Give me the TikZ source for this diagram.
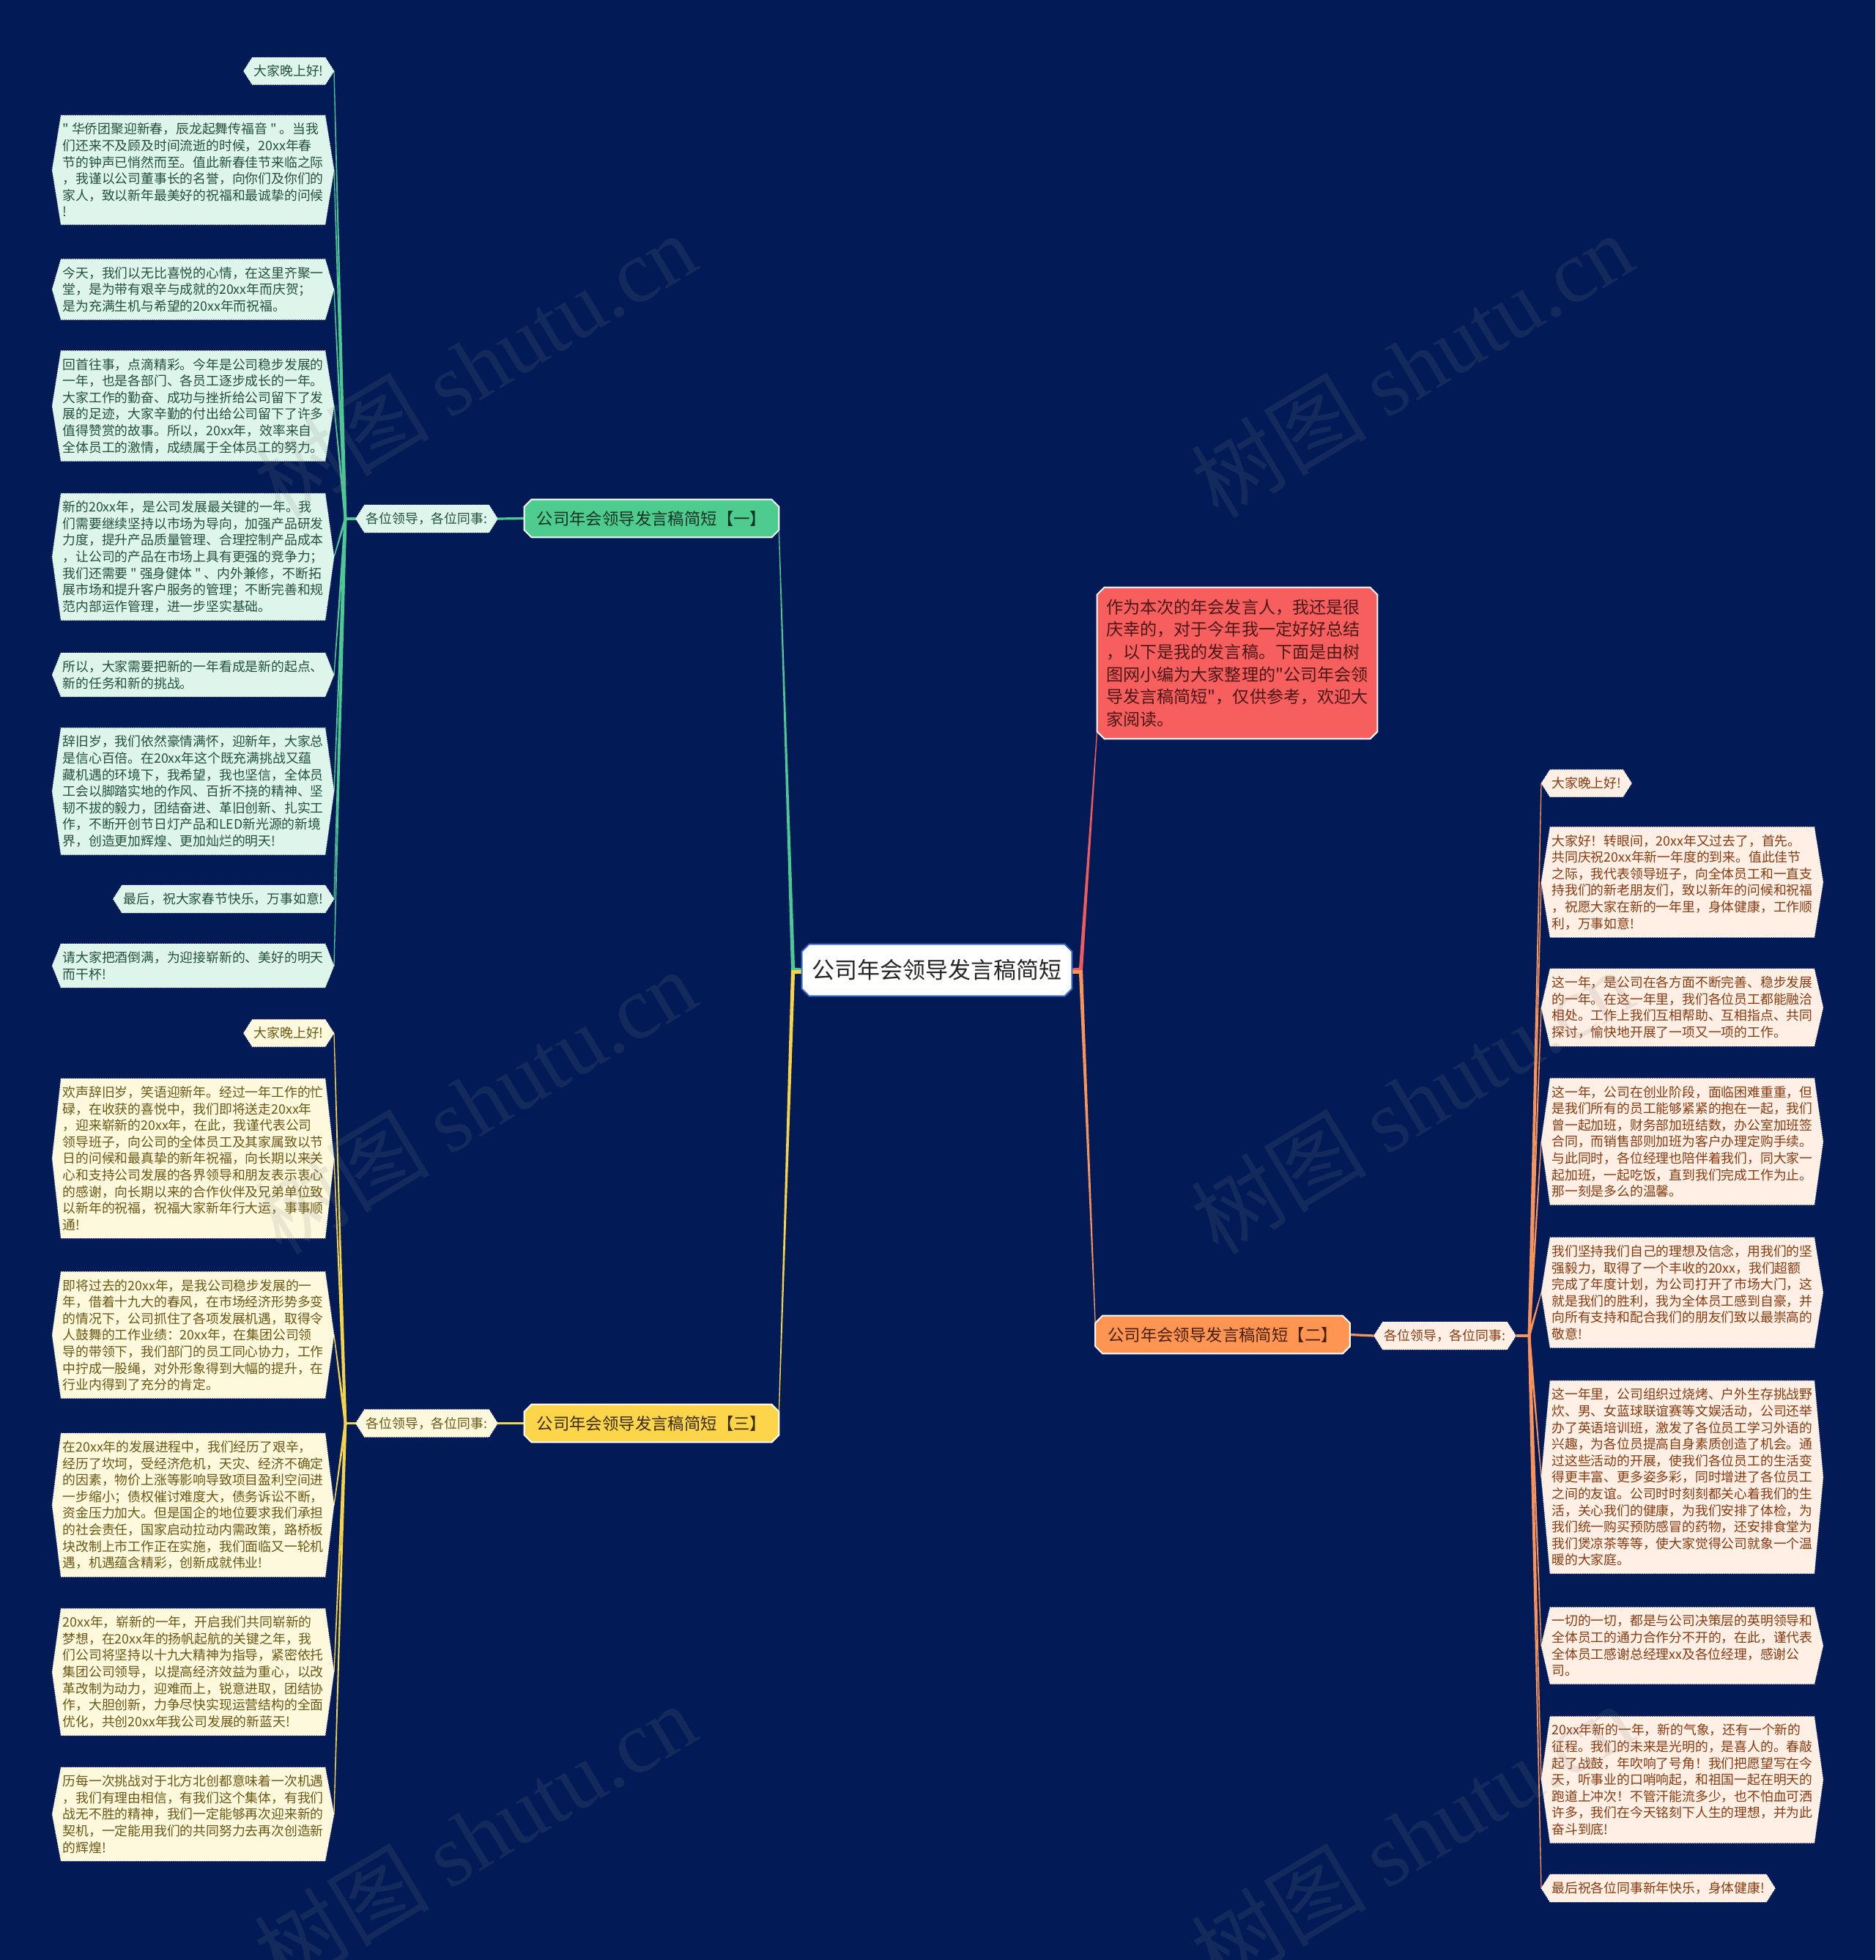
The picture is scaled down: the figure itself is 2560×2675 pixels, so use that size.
\documentclass[tikz,border=0pt]{standalone}
\usepackage{fontspec}
\setmainfont{Noto Sans CJK SC}[Ligatures=TeXOff]
\newfontfamily\wmlatin{Liberation Serif}
\usetikzlibrary{calc}
\pgfdeclarelayer{bgl}\pgfdeclarelayer{edgel}\pgfdeclarelayer{shapel}\pgfdeclarelayer{fgl}
\pgfsetlayers{bgl,edgel,shapel,main,fgl}
\definecolor{bgc}{HTML}{021B57}
\definecolor{gline}{HTML}{4FC993}
\definecolor{gbr}{HTML}{4ECC8F}
\definecolor{gfill}{HTML}{DDF5EA}
\definecolor{gtext}{HTML}{24503D}
\definecolor{gbrtext}{HTML}{0F3325}
\definecolor{yline}{HTML}{F6D44A}
\definecolor{ybr}{HTML}{FDD54A}
\definecolor{yfill}{HTML}{FEF8DD}
\definecolor{ytext}{HTML}{6B5814}
\definecolor{ybrtext}{HTML}{3A2E06}
\definecolor{oline}{HTML}{F8935A}
\definecolor{obr}{HTML}{FE9552}
\definecolor{ofill}{HTML}{FFEFE4}
\definecolor{otext}{HTML}{8A3A10}
\definecolor{obrtext}{HTML}{4A1F06}
\definecolor{rline}{HTML}{F05C5C}
\definecolor{rfill}{HTML}{F75E5E}
\definecolor{rtext}{HTML}{4B1717}
\definecolor{rootb}{HTML}{3B6CCF}
\newcommand\leaffont{\fontsize{8.9pt}{11.3pt}\selectfont}
\newcommand\hexfill[2]{\begin{pgfonlayer}{shapel}\path[#2] (#1.north west) -- (#1.north east) -- ($(#1.east)+(12,0)$) -- (#1.south east) -- (#1.south west) -- ($(#1.west)+(-12,0)$) -- cycle;\end{pgfonlayer}}
\newcommand\octfill[3]{\begin{pgfonlayer}{shapel}\path[#2] ($(#1.north west)+(#3,0)$) -- ($(#1.north east)+(-#3,0)$) -- ($(#1.north east)+(0,#3)$) -- ($(#1.south east)+(0,-#3)$) -- ($(#1.south east)+(-#3,0)$) -- ($(#1.south west)+(#3,0)$) -- ($(#1.south west)+(0,-#3)$) -- ($(#1.north west)+(0,#3)$) -- cycle;\end{pgfonlayer}}
\newcommand\tap[5]{\fill[#1] ($(#2)!#4!90:(#3)$) -- ($(#3)!#5!-90:(#2)$) -- ($(#3)!#5!90:(#2)$) -- ($(#2)!#4!-90:(#3)$) -- cycle;}
\tikzset{
 leafbase/.style={font=\leaffont, align=left, inner xsep=1pt, inner ysep=5pt},
 gleaf/.style={leafbase, text=gtext, anchor=east},
 yleaf/.style={leafbase, text=ytext, anchor=east},
 oleaf/.style={leafbase, text=otext, anchor=west},
 gbox/.style={fill=gfill, draw=white, densely dotted, line width=0.5pt},
 ybox/.style={fill=yfill, draw=white, densely dotted, line width=0.5pt},
 obox/.style={fill=ofill, draw=white, densely dotted, line width=0.5pt},
 branch/.style={font=\fontsize{11.2pt}{13pt}\selectfont, inner sep=0pt, minimum width=173.5pt, minimum height=25.5pt},
 wmark/.style={rotate=31, font=\fontsize{60pt}{64pt}\selectfont, text=gray, opacity=0.15},
}
\begin{document}
\begin{tikzpicture}[x=0.5pt,y=-0.5pt]
\begin{pgfonlayer}{bgl}
\fill[bgc] (0,0) rectangle (2560,2675);
\end{pgfonlayer}
\useasboundingbox (0,0) rectangle (2560,2675);

% root and first level
\node[font=\fontsize{15.5pt}{18pt}\selectfont, text=black!85, inner sep=0pt, minimum width=184pt, minimum height=35pt] (root) at (1279,1324) {公司年会领导发言稿简短};
\octfill{root}{fill=white, draw=rootb, line width=1pt}{10}
\node[align=left, font=\fontsize{11.55pt}{15.35pt}\selectfont, text=rtext, inner sep=0pt, minimum width=191pt, minimum height=103pt] (red) at (1689,905) {作为本次的年会发言人，我还是很\\庆幸的，对于今年我一定好好总结\\，以下是我的发言稿。下面是由树\\图网小编为大家整理的"公司年会领\\导发言稿简短"，仅供参考，欢迎大\\家阅读。};
\octfill{red}{fill=rfill, draw=white, line width=1pt}{10}
\node[branch, text=gbrtext] (b1) at (889.5,707.5) {公司年会领导发言稿简短【一】};
\octfill{b1}{fill=gbr, draw=white, line width=1pt}{10}
\node[branch, text=obrtext] (b2) at (1669,1821.5) {公司年会领导发言稿简短【二】};
\octfill{b2}{fill=obr, draw=white, line width=1pt}{10}
\node[branch, text=ybrtext] (b3) at (889.5,1942.5) {公司年会领导发言稿简短【三】};
\octfill{b3}{fill=ybr, draw=white, line width=1pt}{10}

% second level
\node[leafbase, text=gtext] (gs) at (582.5,708) {各位领导，各位同事:};
\hexfill{gs}{gbox}
\node[leafbase, text=ytext] (ys) at (582.5,1942.5) {各位领导，各位同事:};
\hexfill{ys}{ybox}
\node[leafbase, text=otext] (os) at (1972.5,1823) {各位领导，各位同事:};
\hexfill{os}{obox}

% green leaves
\node[gleaf] (g1) at (444,97) {大家晚上好!};
\node[gleaf] (g2) at (444,232) {" 华侨团聚迎新春，辰龙起舞传福音 " 。当我\\们还来不及顾及时间流逝的时候，20xx年春\\节的钟声已悄然而至。值此新春佳节来临之际\\，我谨以公司董事长的名誉，向你们及你们的\\家人，致以新年最美好的祝福和最诚挚的问候\\!};
\node[gleaf] (g3) at (444,395) {今天，我们以无比喜悦的心情，在这里齐聚一\\堂，是为带有艰辛与成就的20xx年而庆贺；\\是为充满生机与希望的20xx年而祝福。};
\node[gleaf] (g4) at (444,554) {回首往事，点滴精彩。今年是公司稳步发展的\\一年，也是各部门、各员工逐步成长的一年。\\大家工作的勤奋、成功与挫折给公司留下了发\\展的足迹，大家辛勤的付出给公司留下了许多\\值得赞赏的故事。所以，20xx年，效率来自\\全体员工的激情，成绩属于全体员工的努力。};
\node[gleaf] (g5) at (444,760) {新的20xx年，是公司发展最关键的一年。我\\们需要继续坚持以市场为导向，加强产品研发\\力度，提升产品质量管理、合理控制产品成本\\，让公司的产品在市场上具有更强的竞争力；\\我们还需要 " 强身健体 " 、内外兼修，不断拓\\展市场和提升客户服务的管理；不断完善和规\\范内部运作管理，进一步坚实基础。};
\node[gleaf] (g6) at (444,921) {所以，大家需要把新的一年看成是新的起点、\\新的任务和新的挑战。};
\node[gleaf] (g7) at (444,1080) {辞旧岁，我们依然豪情满怀，迎新年，大家总\\是信心百倍。在20xx年这个既充满挑战又蕴\\藏机遇的环境下，我希望，我也坚信，全体员\\工会以脚踏实地的作风、百折不挠的精神、坚\\韧不拔的毅力，团结奋进、革旧创新、扎实工\\作，不断开创节日灯产品和LED新光源的新境\\界，创造更加辉煌、更加灿烂的明天!};
\node[gleaf] (g8) at (444,1227) {最后，祝大家春节快乐，万事如意!};
\node[gleaf] (g9) at (444,1318) {请大家把酒倒满，为迎接崭新的、美好的明天\\而干杯!};
\foreach \n in {g1,g2,g3,g4,g5,g6,g7,g8,g9} {\hexfill{\n}{gbox}}

% yellow leaves
\node[yleaf] (y1) at (444,1410) {大家晚上好!};
\node[yleaf] (y2) at (444,1581) {欢声辞旧岁，笑语迎新年。经过一年工作的忙\\碌，在收获的喜悦中，我们即将送走20xx年\\，迎来崭新的20xx年，在此，我谨代表公司\\领导班子，向公司的全体员工及其家属致以节\\日的问候和最真挚的新年祝福，向长期以来关\\心和支持公司发展的各界领导和朋友表示衷心\\的感谢，向长期以来的合作伙伴及兄弟单位致\\以新年的祝福，祝福大家新年行大运，事事顺\\通!};
\node[yleaf] (y3) at (444,1822) {即将过去的20xx年，是我公司稳步发展的一\\年，借着十九大的春风，在市场经济形势多变\\的情况下，公司抓住了各项发展机遇，取得令\\人鼓舞的工作业绩：20xx年，在集团公司领\\导的带领下，我们部门的员工同心协力，工作\\中拧成一股绳，对外形象得到大幅的提升，在\\行业内得到了充分的肯定。};
\node[yleaf] (y4) at (444,2054) {在20xx年的发展进程中，我们经历了艰辛，\\经历了坎坷，受经济危机，天灾、经济不确定\\的因素，物价上涨等影响导致项目盈利空间进\\一步缩小；债权催讨难度大，债务诉讼不断，\\资金压力加大。但是国企的地位要求我们承担\\的社会责任，国家启动拉动内需政策，路桥板\\块改制上市工作正在实施，我们面临又一轮机\\遇，机遇蕴含精彩，创新成就伟业!};
\node[yleaf] (y5) at (444,2282) {20xx年，崭新的一年，开启我们共同崭新的\\梦想，在20xx年的扬帆起航的关键之年，我\\们公司将坚持以十九大精神为指导，紧密依托\\集团公司领导，以提高经济效益为重心，以改\\革改制为动力，迎难而上，锐意进取，团结协\\作，大胆创新，力争尽快实现运营结构的全面\\优化，共创20xx年我公司发展的新蓝天!};
\node[yleaf] (y6) at (444,2476) {历每一次挑战对于北方北创都意味着一次机遇\\，我们有理由相信，有我们这个集体，有我们\\战无不胜的精神，我们一定能够再次迎来新的\\契机，一定能用我们的共同努力去再次创造新\\的辉煌!};
\foreach \n in {y1,y2,y3,y4,y5,y6} {\hexfill{\n}{ybox}}

% orange leaves
\node[oleaf] (o1) at (2116,1069) {大家晚上好!};
\node[oleaf] (o2) at (2116,1204) {大家好！转眼间，20xx年又过去了，首先。\\共同庆祝20xx年新一年度的到来。值此佳节\\之际，我代表领导班子，向全体员工和一直支\\持我们的新老朋友们，致以新年的问候和祝福\\，祝愿大家在新的一年里，身体健康，工作顺\\利，万事如意!};
\node[oleaf] (o3) at (2116,1375) {这一年，是公司在各方面不断完善、稳步发展\\的一年。在这一年里，我们各位员工都能融洽\\相处。工作上我们互相帮助、互相指点、共同\\探讨，愉快地开展了一项又一项的工作。};
\node[oleaf] (o4) at (2116,1558) {这一年，公司在创业阶段，面临困难重重，但\\是我们所有的员工能够紧紧的抱在一起，我们\\曾一起加班，财务部加班结数，办公室加班签\\合同，而销售部则加班为客户办理定购手续。\\与此同时，各位经理也陪伴着我们，同大家一\\起加班，一起吃饭，直到我们完成工作为止。\\那一刻是多么的温馨。};
\node[oleaf] (o5) at (2116,1764) {我们坚持我们自己的理想及信念，用我们的坚\\强毅力，取得了一个丰收的20xx，我们超额\\完成了年度计划，为公司打开了市场大门，这\\就是我们的胜利，我为全体员工感到自豪，并\\向所有支持和配合我们的朋友们致以最崇高的\\敬意!};
\node[oleaf] (o6) at (2116,2016) {这一年里，公司组织过烧烤、户外生存挑战野\\炊、男、女蓝球联谊赛等文娱活动，公司还举\\办了英语培训班，激发了各位员工学习外语的\\兴趣，为各位员提高自身素质创造了机会。通\\过这些活动的开展，使我们各位员工的生活变\\得更丰富、更多姿多彩，同时增进了各位员工\\之间的友谊。公司时时刻刻都关心着我们的生\\活，关心我们的健康，为我们安排了体检，为\\我们统一购买预防感冒的药物，还安排食堂为\\我们煲凉茶等等，使大家觉得公司就象一个温\\暖的大家庭。};
\node[oleaf] (o7) at (2116,2246) {一切的一切，都是与公司决策层的英明领导和\\全体员工的通力合作分不开的，在此，谨代表\\全体员工感谢总经理xx及各位经理，感谢公\\司。};
\node[oleaf] (o8) at (2116,2429) {20xx年新的一年，新的气象，还有一个新的\\征程。我们的未来是光明的，是喜人的。春敲\\起了战鼓，年吹响了号角！我们把愿望写在今\\天，听事业的口哨响起，和祖国一起在明天的\\跑道上冲次！不管汗能流多少，也不怕血可洒\\许多，我们在今天铭刻下人生的理想，并为此\\奋斗到底!};
\node[oleaf] (o9) at (2116,2577) {最后祝各位同事新年快乐，身体健康!};
\foreach \n in {o1,o2,o3,o4,o5,o6,o7,o8,o9} {\hexfill{\n}{obox}}

% connector points
\coordinate (hl) at ($(root.west)+(-12,0)$);
\coordinate (hr) at ($(root.east)+(12,0)$);
\coordinate (b1t) at ($(b1.east)+(0,18)$);
\coordinate (b3t) at ($(b3.east)+(0,-17)$);
\coordinate (redt) at ($(red.south west)+(0,-10)$);
\coordinate (b2t) at ($(b2.west)+(0,-17)$);
\coordinate (gsw) at ($(gs.west)+(-12,0)$);
\coordinate (gse) at ($(gs.east)+(12,0)$);
\coordinate (ysw) at ($(ys.west)+(-12,0)$);
\coordinate (yse) at ($(ys.east)+(12,0)$);
\coordinate (osw) at ($(os.west)+(-12,0)$);
\coordinate (ose) at ($(os.east)+(12,0)$);
\coordinate (gh) at ($(gsw)+(-14,0)$);
\coordinate (yh) at ($(ysw)+(-14,0)$);
\coordinate (oh) at ($(ose)+(18,0)$);
\foreach \n in {g1,g2,g3,g4,g5,g6,g7,g8,g9,y1,y2,y3,y4,y5,y6} {\coordinate (\n t) at ($(\n.east)+(12,0)$);}
\foreach \n in {o1,o2,o3,o4,o5,o6,o7,o8,o9} {\coordinate (\n t) at ($(\n.west)+(-12,0)$);}

\begin{pgfonlayer}{edgel}
\draw[gline, line width=2.5pt] (root.west) -- ($(hl)+(0,-1)$);
\draw[yline, line width=2.5pt] ($(root.west)+(0,2)$) -- ($(hl)+(0,2)$);
\draw[rline, line width=2.5pt] (root.east) -- ($(hr)+(0,-1)$);
\draw[oline, line width=2.5pt] ($(root.east)+(0,2)$) -- ($(hr)+(0,2)$);
\tap{gline}{hl}{b1t}{1.3pt}{0.3pt}
\tap{yline}{hl}{b3t}{1.3pt}{0.3pt}
\tap{rline}{hr}{redt}{1.3pt}{0.3pt}
\tap{oline}{hr}{b2t}{1.3pt}{0.3pt}
\draw[gline, line width=1.6pt] (b1.west) -- (gse);
\draw[gline, line width=1.6pt] (gsw) -- (gh);
\draw[yline, line width=1.6pt] (b3.west) -- (yse);
\draw[yline, line width=1.6pt] (ysw) -- (yh);
\draw[oline, line width=1.6pt] (b2.east) -- (osw);
\draw[oline, line width=1.6pt] (ose) -- (oh);
\foreach \n in {g1,g2,g3,g4,g5,g6,g7,g8,g9} {\tap{gline}{gh}{\n t}{0.9pt}{0.3pt}}
\foreach \n in {y1,y2,y3,y4,y5,y6} {\tap{yline}{yh}{\n t}{0.9pt}{0.3pt}}
\foreach \n in {o1,o2,o3,o4,o5,o6,o7,o8,o9} {\tap{oline}{oh}{\n t}{0.9pt}{0.3pt}}
\end{pgfonlayer}

% watermarks
\begin{pgfonlayer}{fgl}
\node[wmark] (w1) at (648,498) {树图 {\wmlatin shutu.cn}};
\node[wmark] (w2) at (1927,498) {树图 {\wmlatin shutu.cn}};
\node[wmark] (w3) at (648,1503) {树图 {\wmlatin shutu.cn}};
\node[wmark] (w4) at (1927,1503) {树图 {\wmlatin shutu.cn}};
\node[wmark] (w5) at (648,2505) {树图 {\wmlatin shutu.cn}};
\node[wmark] (w6) at (1927,2505) {树图 {\wmlatin shutu.cn}};
\end{pgfonlayer}
\end{tikzpicture}
\end{document}
